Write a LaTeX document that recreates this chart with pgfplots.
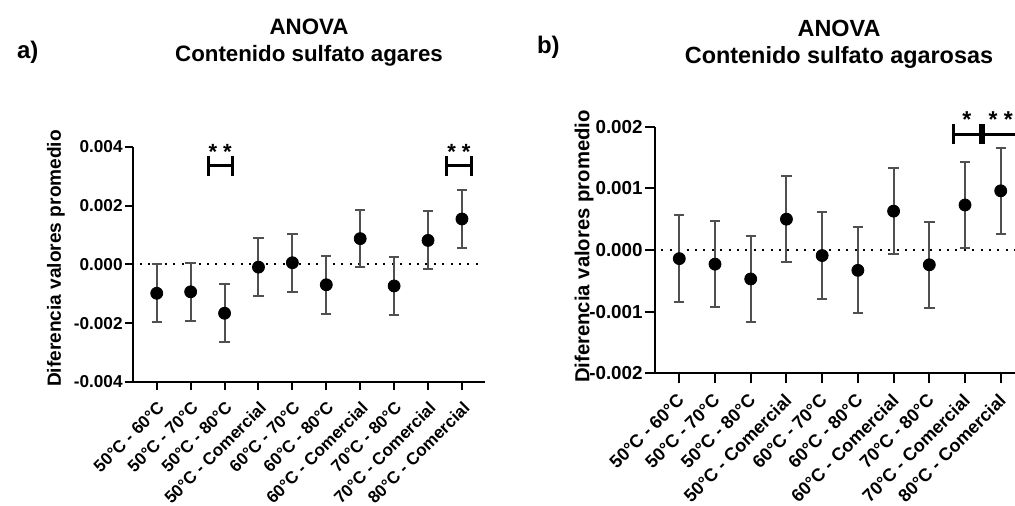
\documentclass[border=0pt]{standalone}
\usepackage{pgfplots}
\pgfplotsset{compat=1.18}
\usepackage{pgfplotstable}
\usepackage{fontspec}
\setmainfont{Liberation Sans}
\definecolor{errgray}{RGB}{80,80,80}

\pgfplotstableread{
x y e
0 -0.00098 0.00098
1 -0.00093 0.00099
2 -0.00166 0.00098
3 -0.00009 0.00098
4 0.00006 0.00099
5 -0.00069 0.00098
6 0.00088 0.00098
7 -0.00073 0.00098
8 0.00082 0.00099
9 0.00155 0.00098
}\dataA

\pgfplotstableread{
x y e
0 -0.00014 0.00070
1 -0.00023 0.00070
2 -0.00047 0.00070
3 0.00050 0.00070
4 -0.00009 0.00070
5 -0.00033 0.00070
6 0.00063 0.00070
7 -0.00024 0.00070
8 0.00073 0.00070
9 0.00096 0.00070
}\dataB

\newcommand{\ta}{\fontsize{8.6}{10}\selectfont\bfseries}
\newcommand{\tb}{\fontsize{9.4}{10}\selectfont\bfseries}

\pgfplotsset{
  anova/.style={
    scale only axis, clip=false,
    axis lines=left,
    axis line style={-, line width=1pt, black},
    tick align=outside,
    tick style={line width=1pt, black},
    scaled y ticks=false,
    xtick={0,...,9},
    xticklabels={50°C - 60°C, 50°C - 70°C, 50°C - 80°C, 50°C - Comercial, 60°C - 70°C, 60°C - 80°C, 60°C - Comercial, 70°C - 80°C, 70°C - Comercial, 80°C - Comercial},
    minor tick num=0,
  },
  errs/.style={only marks, mark=none,
    error bars/.cd, y dir=both, y explicit,
    error bar style={line width=1pt, color=errgray},
    error mark options={rotate=90, mark size=2.6pt, line width=1pt, color=errgray}},
  pts/.style={only marks, mark=*, mark size=3pt, black},
}

\begin{document}
\begin{tikzpicture}
\useasboundingbox (0,0) rectangle (507.5pt,253pt);
\clip (0,0) rectangle (507.5pt,253pt);

% titles
\node[anchor=base west, font=\fontsize{12}{12}\selectfont\bfseries] at (5pt,223.5pt) {a)};
\node[anchor=base, font=\fontsize{11.15}{12}\selectfont\bfseries] at (154.5pt,235.5pt) {ANOVA};
\node[anchor=base, font=\fontsize{11.15}{12}\selectfont\bfseries] at (154.5pt,222pt) {Contenido sulfato agares};
\node[anchor=base west, font=\fontsize{12}{12}\selectfont\bfseries] at (265pt,226pt) {b)};
\node[anchor=base, font=\fontsize{11.7}{12}\selectfont\bfseries] at (419.5pt,234.5pt) {ANOVA};
\node[anchor=base, font=\fontsize{11.7}{12}\selectfont\bfseries] at (419.5pt,221.25pt) {Contenido sulfato agarosas};
\node[rotate=90, font=\fontsize{9.55}{10}\selectfont\bfseries] at (28pt,123.75pt) {Diferencia valores promedio};
\node[rotate=90, font=\fontsize{10.15}{11}\selectfont\bfseries] at (292pt,129.75pt) {Diferencia valores promedio};

\begin{axis}[anova, at={(66.5pt,62pt)}, anchor=south west,
  width=176pt, height=117.5pt,
  xmin=-0.7, xmax=9.68, ymin=-0.004, ymax=0.004,
  ytick={-0.004,-0.002,0,0.002,0.004},
  yticklabels={{\ta -0.004},{\ta -0.002},{\ta 0.000},{\ta 0.002},{\ta 0.004}},
  yticklabel style={font=\ta, inner sep=1pt, anchor=east},
  xticklabel style={font=\fontsize{8.5}{10}\selectfont\bfseries, inner sep=0pt, xshift=0pt, yshift=-5pt, rotate=45, anchor=north east},
  major tick length=4pt]
\addplot[black, line width=1pt, dash pattern=on 1pt off 3.2pt] coordinates {(-0.5,0) (9.5,0)};
\addplot[errs] table[x=x, y=y, y error=e] {\dataA};
\addplot[pts] table[x=x, y=y] {\dataA};
% significance brackets
\addplot[black, line width=1.5pt] coordinates {(1.52,0.00302) (1.52,0.0037)};
\addplot[black, line width=1.5pt] coordinates {(2.22,0.00302) (2.22,0.0037)};
\addplot[black, line width=1.5pt] coordinates {(1.52,0.00336) (2.22,0.00336)};
\addplot[black, line width=1.5pt] coordinates {(8.55,0.00302) (8.55,0.0037)};
\addplot[black, line width=1.5pt] coordinates {(9.27,0.00302) (9.27,0.0037)};
\addplot[black, line width=1.5pt] coordinates {(8.55,0.00336) (9.27,0.00336)};
\node[anchor=base, font=\fontsize{11}{11}\selectfont\bfseries, inner sep=0pt] at (axis cs:1.87,0.00356) {* *};
\node[anchor=base, font=\fontsize{11}{11}\selectfont\bfseries, inner sep=0pt] at (axis cs:8.91,0.00356) {* *};
\end{axis}

\begin{axis}[anova, at={(327.5pt,66.35pt)}, anchor=south west,
  width=185pt, height=123.3pt,
  xmin=-0.68, xmax=9.68, ymin=-0.002, ymax=0.002,
  ytick={-0.002,-0.001,0,0.001,0.002},
  yticklabels={{\tb -0.002},{\tb -0.001},{\tb 0.000},{\tb 0.001},{\tb 0.002}},
  yticklabel style={font=\tb, inner sep=1pt, anchor=east},
  xticklabel style={font=\fontsize{9}{10}\selectfont\bfseries, inner sep=0pt, xshift=-1.5pt, yshift=-4.5pt, rotate=45, anchor=north east},
  major tick length=5pt]
\addplot[black, line width=1pt, dash pattern=on 1pt off 3.2pt] coordinates {(-0.5,0) (9.6,0)};
\addplot[errs] table[x=x, y=y, y error=e] {\dataB};
\addplot[pts] table[x=x, y=y] {\dataB};
\addplot[black, line width=1.5pt] coordinates {(7.67,0.00172) (7.67,0.00204)};
\addplot[black, line width=1.5pt] coordinates {(8.42,0.00172) (8.42,0.00204)};
\addplot[black, line width=1.5pt] coordinates {(7.67,0.00188) (8.42,0.00188)};
\addplot[black, line width=1.5pt] coordinates {(8.53,0.00172) (8.53,0.00204)};
\addplot[black, line width=1.5pt] coordinates {(9.45,0.00172) (9.45,0.00204)};
\addplot[black, line width=1.5pt] coordinates {(8.53,0.00188) (9.45,0.00188)};
\node[anchor=base, font=\fontsize{11.5}{11}\selectfont\bfseries, inner sep=0pt] at (axis cs:8.05,0.00198) {*};
\node[anchor=base, font=\fontsize{11.5}{11}\selectfont\bfseries, inner sep=0pt] at (axis cs:9.0,0.00198) {* *};
\end{axis}
\end{tikzpicture}
\end{document}
